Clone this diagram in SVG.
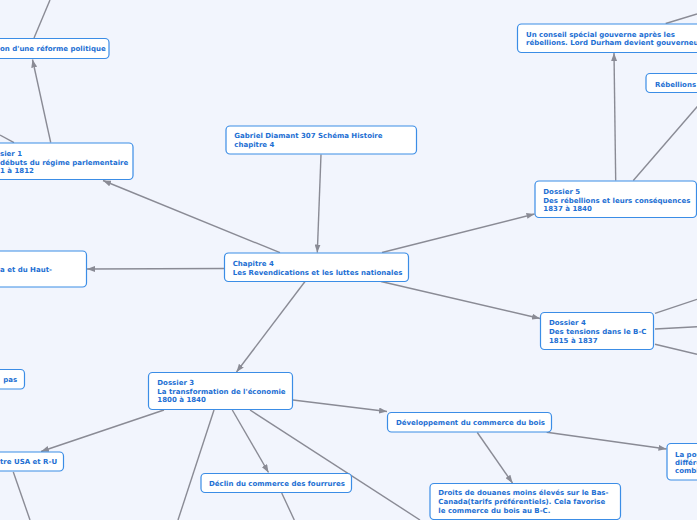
<svg xmlns="http://www.w3.org/2000/svg" width="697" height="520" viewBox="0 0 697 520">
<defs>
<marker id="arr" markerUnits="userSpaceOnUse" markerWidth="8" markerHeight="6" refX="8" refY="3" orient="auto">
<path d="M0,0 L8,3 L0,6 z" fill="#8a8b95"/>
</marker>
<style>
.bg{fill:#f2f5fd}
.box{fill:#ffffff;stroke:#3b8de6;stroke-width:1.2}
.t{font-family:"DejaVu Sans",Verdana,sans-serif;font-weight:bold;font-size:7px;fill:#1d6fd3}
.c{stroke:#8a8b95;stroke-width:1.4;fill:none}
.a{marker-end:url(#arr)}
</style>
</defs>
<rect class="bg" x="0" y="0" width="697" height="520"/>
<g id="connectors">
<line class="c" x1="50" y1="0" x2="34" y2="38"/>
<line class="c a" x1="50.7" y1="142.5" x2="32.5" y2="59.5"/>
<line class="c" x1="0" y1="135" x2="14" y2="142.7"/>
<line class="c a" x1="280" y1="252.7" x2="103" y2="180.5"/>
<line class="c a" x1="321" y1="154.5" x2="317.3" y2="252.5"/>
<line class="c a" x1="382" y1="252.5" x2="534.5" y2="214"/>
<line class="c a" x1="224" y1="268.5" x2="87" y2="269"/>
<line class="c a" x1="305" y1="281.5" x2="236.5" y2="372"/>
<line class="c a" x1="381" y1="281.5" x2="540" y2="318.5"/>
<line class="c a" x1="164" y1="410" x2="41" y2="451.5"/>
<line class="c" x1="214" y1="410" x2="178" y2="520"/>
<line class="c a" x1="232.3" y1="410" x2="268.5" y2="472.5"/>
<line class="c" x1="250" y1="410" x2="420" y2="520"/>
<line class="c a" x1="293" y1="400" x2="387" y2="411.5"/>
<line class="c a" x1="477.3" y1="432.5" x2="512.5" y2="483"/>
<line class="c a" x1="546.7" y1="432.3" x2="666.5" y2="449"/>
<line class="c" x1="13.3" y1="472" x2="30" y2="520"/>
<line class="c" x1="281.7" y1="493" x2="294.3" y2="520"/>
<line class="c" x1="655" y1="313.3" x2="697" y2="299.3"/>
<line class="c" x1="655" y1="329" x2="697" y2="326.7"/>
<line class="c" x1="655" y1="344.3" x2="697" y2="354.3"/>
<line class="c a" x1="615.7" y1="180.5" x2="614" y2="53"/>
<line class="c" x1="633.3" y1="180.5" x2="709" y2="93"/>
<line class="c" x1="665.7" y1="23.5" x2="697" y2="14"/>
</g>
<g id="n-reforme">
<rect class="box" x="-10" y="38.5" width="119" height="20" rx="4"/>
<text class="t" x="0" y="51">on d'une réforme politique</text>
</g>
<g id="n-dossier1">
<rect class="box" x="-10" y="143" width="143" height="36.5" rx="4"/>
<text class="t" x="0" y="156.3">sier 1</text>
<text class="t" x="0" y="164.5">débuts du régime parlementaire</text>
<text class="t" x="0" y="172.7">1 à 1812</text>
</g>
<g id="n-gabriel">
<rect class="box" x="226" y="126" width="190.5" height="28" rx="4"/>
<text class="t" x="234.3" y="138.3">Gabriel Diamant 307 Schéma Histoire</text>
<text class="t" x="234.3" y="146.9">chapitre 4</text>
</g>
<g id="n-chapitre4">
<rect class="box" x="224.5" y="253" width="184" height="28.5" rx="4"/>
<text class="t" x="232.7" y="266.3">Chapitre 4</text>
<text class="t" x="232.7" y="274.5">Les Revendications et les luttes nationales</text>
</g>
<g id="n-haut">
<rect class="box" x="-10" y="251" width="96.5" height="36" rx="4"/>
<text class="t" x="0" y="271.9">a et du Haut-</text>
</g>
<g id="n-pas">
<rect class="box" x="-10" y="369.5" width="34.5" height="19.5" rx="4"/>
<text class="t" x="3.3" y="381.9">pas</text>
</g>
<g id="n-dossier3">
<rect class="box" x="148.5" y="372.5" width="144" height="37" rx="4"/>
<text class="t" x="157.3" y="385.3">Dossier 3</text>
<text class="t" x="157.3" y="393.8">La transformation de l'économie</text>
<text class="t" x="157.3" y="402.2">1800 à 1840</text>
</g>
<g id="n-usa">
<rect class="box" x="-10" y="452" width="73.5" height="19" rx="4"/>
<text class="t" x="0" y="464.3">tre USA et R-U</text>
</g>
<g id="n-declin">
<rect class="box" x="201" y="473.5" width="150.5" height="19" rx="4"/>
<text class="t" x="209" y="486.3">Déclin du commerce des fourrures</text>
</g>
<g id="n-bois">
<rect class="box" x="387.5" y="412.5" width="164" height="19.5" rx="4"/>
<text class="t" x="396" y="425.3">Développement du commerce du bois</text>
</g>
<g id="n-droits">
<rect class="box" x="430" y="483.5" width="190.5" height="36" rx="4"/>
<text class="t" x="438.3" y="495.3">Droits de douanes moins élevés sur le Bas-</text>
<text class="t" x="438.3" y="504">Canada(tarifs préférentiels). Cela favorise</text>
<text class="t" x="438.3" y="512.6">le commerce du bois au B-C.</text>
</g>
<g id="n-lapop">
<rect class="box" x="667" y="443.5" width="50" height="36.5" rx="4"/>
<text class="t" x="675" y="456.6">La pop</text>
<text class="t" x="675" y="465">différe</text>
<text class="t" x="675" y="473.4">combi</text>
</g>
<g id="n-dossier4">
<rect class="box" x="540.5" y="312.5" width="113" height="37" rx="4"/>
<text class="t" x="549" y="325.3">Dossier 4</text>
<text class="t" x="549" y="334">Des tensions dans le B-C</text>
<text class="t" x="549" y="342.6">1815 à 1837</text>
</g>
<g id="n-dossier5">
<rect class="box" x="535" y="181" width="161.5" height="36.5" rx="4"/>
<text class="t" x="543.3" y="194.3">Dossier 5</text>
<text class="t" x="543.3" y="202.7">Des rébellions et leurs conséquences</text>
<text class="t" x="543.3" y="211">1837 à 1840</text>
</g>
<g id="n-conseil">
<rect class="box" x="517.5" y="24" width="200" height="28.5" rx="4"/>
<text class="t" x="526" y="37">Un conseil spécial gouverne après les</text>
<text class="t" x="526" y="45">rébellions. Lord Durham devient gouverneur</text>
</g>
<g id="n-rebellions">
<rect class="box" x="646" y="73.5" width="70" height="19" rx="4"/>
<text class="t" x="655" y="86.6">Rébellions</text>
</g>
</svg>
